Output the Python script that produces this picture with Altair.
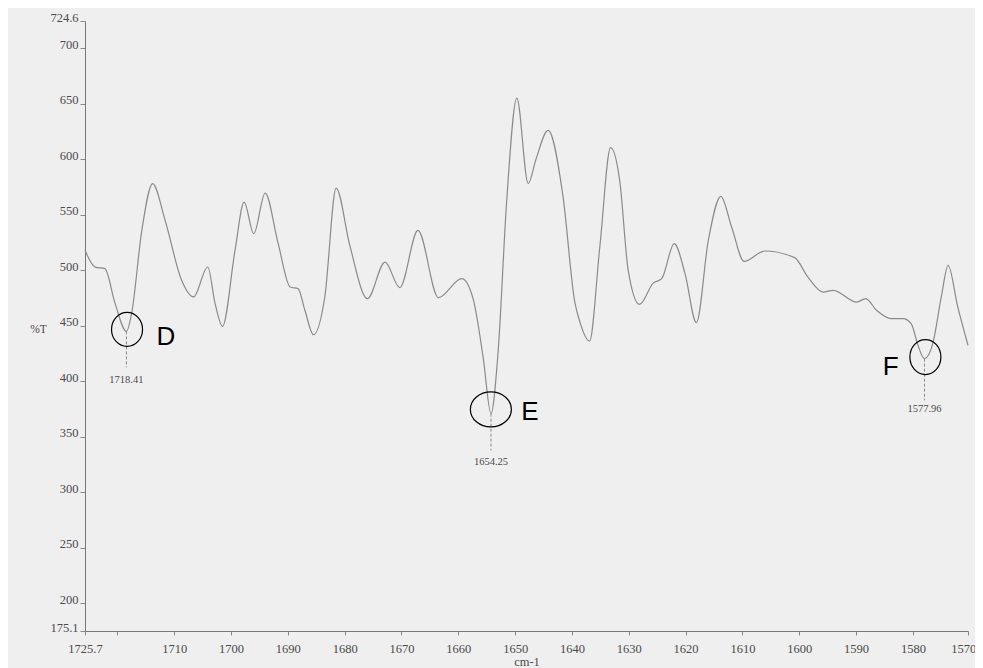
import altair as alt
import pandas as pd

# Spectrum trace (wavenumber cm-1, %T)
wavenumber = [1725.7, 1723.9, 1722.2, 1720.4, 1718.4, 1717.5, 1715.7, 1713.8, 1711.6, 1708.7,
              1706.6, 1704.1, 1702.8, 1701.5, 1699.3, 1697.7, 1696.0, 1694.0, 1691.7, 1689.6,
              1688.2, 1687.0, 1685.5, 1683.5, 1681.5, 1679.1, 1676.0, 1672.9, 1670.3, 1667.1,
              1663.5, 1659.4, 1657.4, 1655.6, 1654.25, 1653.0, 1651.5, 1649.7, 1647.7, 1646.3,
              1644.2, 1641.6, 1639.5, 1638.6, 1636.9, 1635.1, 1633.2, 1631.6, 1630.1, 1628.1,
              1625.7, 1624.2, 1622.0, 1620.1, 1618.1, 1616.0, 1613.8, 1611.9, 1609.7, 1606.1,
              1600.8, 1598.5, 1595.8, 1594.0, 1589.9, 1588.3, 1586.4, 1583.8, 1581.7, 1580.3,
              1579.1, 1577.96, 1576.5, 1575.0, 1573.8, 1572.1, 1570.3]
transmittance = [518.0, 502.9, 501.5, 470.0, 445.0, 461.0, 536.0, 578.1, 545.0, 491.0,
                 476.0, 503.0, 470.0, 449.5, 518.0, 561.5, 533.0, 569.6, 524.0, 485.0,
                 483.5, 464.0, 442.0, 476.0, 574.0, 522.5, 474.5, 507.4, 484.4, 536.0,
                 475.4, 492.5, 474.5, 420.4, 370.9, 426.4, 561.5, 655.2, 578.1, 600.6,
                 626.1, 567.5, 471.4, 453.4, 436.3, 521.0, 610.5, 581.0, 500.0, 469.3,
                 488.5, 492.5, 524.0, 497.0, 452.8, 527.0, 566.6, 539.0, 508.0, 517.4,
                 511.4, 494.0, 480.4, 482.0, 471.4, 474.5, 464.0, 456.5, 456.5, 452.0,
                 432.4, 420.4, 434.0, 476.0, 504.5, 467.0, 432.4]

# Marked peaks
peak_wn = [1718.41, 1654.25, 1577.96]
peak_T = [445.0, 370.9, 420.4]
peak_text = ["1718.41", "1654.25", "1577.96"]
peak_line_end = [412.6, 337.8, 382.8]
peak_label_T = [400.9, 326.9, 374.8]

# Circled regions and letters
circle_wn = [1718.3, 1654.27, 1577.8]
circle_T = [446.8, 374.7, 421.9]
circle_size = [1156, 1681, 1225]
circle_shape = [
    "M-0.912,0A0.912,1 0 1,1 0.912,0A0.912,1 0 1,1 -0.912,0Z",
    "M-1,0A1,0.854 0 1,1 1,0A1,0.854 0 1,1 -1,0Z",
    "M-0.886,0A0.886,1 0 1,1 0.886,0A0.886,1 0 1,1 -0.886,0Z",
]
letter = ["D", "E", "F"]
letter_wn = [1711.45, 1647.4, 1583.9]
letter_T = [439.6, 372.0, 412.6]

# Axis ticks
x_ticks = [1725.7, 1720, 1710, 1700, 1690, 1680, 1670, 1660, 1650, 1640, 1630,
           1620, 1610, 1600, 1590, 1580, 1570.3]
y_ticks = [724.6, 700, 650, 600, 550, 500, 450, 400, 350, 300, 250, 200, 175.1]

X_MIN, X_MAX = 1570.3, 1725.7
Y_MIN, Y_MAX = 175.1, 724.6

spec = pd.DataFrame({"wavenumber": wavenumber, "T": transmittance})
peaks = pd.DataFrame({"wavenumber": peak_wn, "T": peak_T, "label": peak_text,
                      "end": peak_line_end, "labelT": peak_label_T})
circles = pd.DataFrame({"wavenumber": circle_wn, "T": circle_T,
                        "size": circle_size, "shape": circle_shape})
letters = pd.DataFrame({"wavenumber": letter_wn, "T": letter_T, "letter": letter})

serif = "Liberation Serif"
grey_txt = "#4a4a4a"

x_scale = alt.Scale(domain=[X_MIN, X_MAX], reverse=True, nice=False, zero=False)
y_scale = alt.Scale(domain=[Y_MIN, Y_MAX], nice=False, zero=False)

x_enc = alt.X(
    "wavenumber:Q", scale=x_scale, title="cm-1",
    axis=alt.Axis(
        values=x_ticks, grid=False,
        labelExpr="datum.value == 1720 ? '' : format(datum.value, '.1~f')",
        labelFont=serif, labelFontSize=12.5, labelColor=grey_txt, labelPadding=7,
        labelFlush=False, labelOverlap=False,
        tickSize=4, tickColor="#888888", domainColor="#777777",
        titleFont=serif, titleFontSize=12.5, titleFontWeight="normal",
        titleColor=grey_txt, titlePadding=1,
    ),
)
y_enc = alt.Y(
    "T:Q", scale=y_scale, title="%T",
    axis=alt.Axis(
        values=y_ticks, grid=False,
        labelExpr="format(datum.value, '.1~f')",
        labelFont=serif, labelFontSize=12.5, labelColor=grey_txt, labelPadding=2,
        labelBaseline="alphabetic", labelFlush=False, labelOverlap=False,
        tickSize=5, tickColor="#888888", domainColor="#777777",
        titleFont=serif, titleFontSize=11.5, titleFontWeight="normal",
        titleColor=grey_txt, titleAngle=0, titleX=-47, titleY=308,
        titleAlign="center", titleBaseline="middle",
    ),
)

line = alt.Chart(spec).mark_line(
    color="#8a8a8a", strokeWidth=1.2, interpolate="monotone"
).encode(
    x=x_enc, y=y_enc, order=alt.Order("wavenumber:Q", sort="descending")
)

drops = alt.Chart(peaks).mark_rule(
    color="#888888", strokeWidth=1, strokeDash=[3, 2]
).encode(
    x=alt.X("wavenumber:Q", scale=x_scale),
    y=alt.Y("T:Q", scale=y_scale),
    y2="end:Q",
)

labels = alt.Chart(peaks).mark_text(
    font=serif, fontSize=10.5, color=grey_txt, align="center", baseline="middle"
).encode(
    x=alt.X("wavenumber:Q", scale=x_scale),
    y=alt.Y("labelT:Q", scale=y_scale),
    text="label:N",
)

rings = alt.Chart(circles).mark_point(
    filled=False, color="black", strokeWidth=1.2, opacity=1
).encode(
    x=alt.X("wavenumber:Q", scale=x_scale),
    y=alt.Y("T:Q", scale=y_scale),
    size=alt.Size("size:Q", scale=None),
    shape=alt.Shape("shape:N", scale=None),
)

letters_layer = alt.Chart(letters).mark_text(
    font="Liberation Sans", fontSize=26, color="black", align="center", baseline="middle"
).encode(
    x=alt.X("wavenumber:Q", scale=x_scale),
    y=alt.Y("T:Q", scale=y_scale),
    text="letter:N",
)

chart = alt.layer(line, drops, labels, rings, letters_layer).properties(
    width=883, height=610,
    autosize=alt.AutoSizeParams(type="none"),
    padding={"left": 77, "top": 13, "right": 7, "bottom": 38},
    background="#efefef",
).configure_view(stroke=None)

chart.save("out.html", embed_options={"renderer": "svg", "actions": False})
